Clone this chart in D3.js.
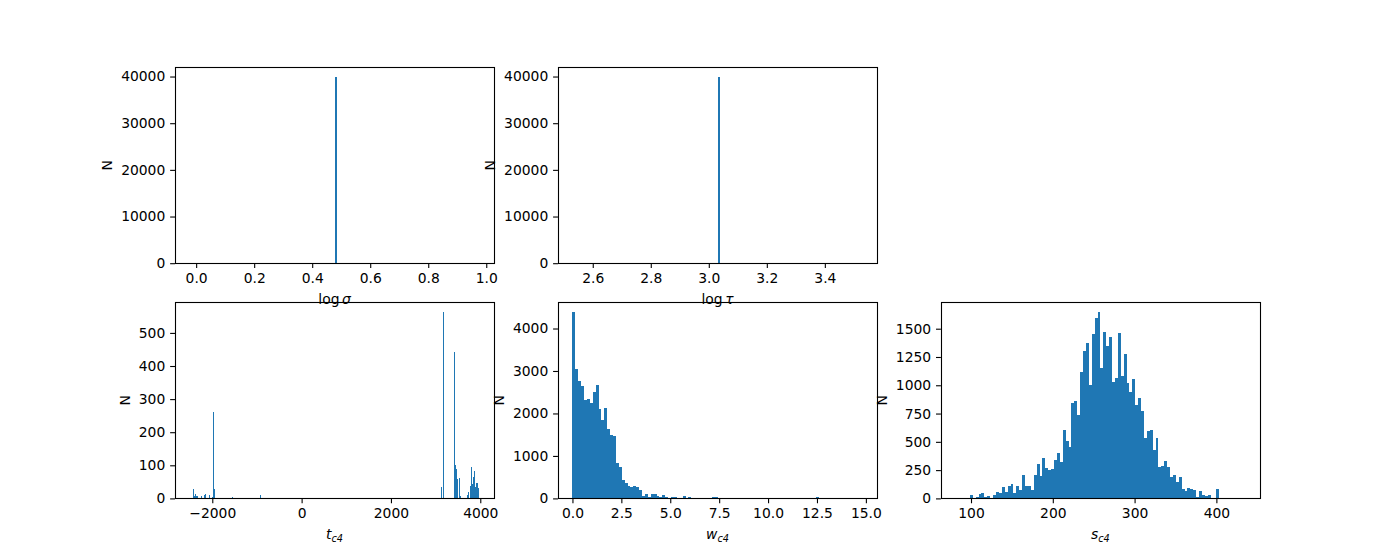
<!DOCTYPE html>
<html><head><meta charset="utf-8">
<script src="https://cdn.jsdelivr.net/npm/d3@7"></script>
<style>
body{margin:0;background:#fff}
text{font-family:"DejaVu Sans",sans-serif;fill:#000}
</style>
</head><body>
<svg id="fig" width="1400" height="560"></svg>
<script>
// ---------------- DATA ----------------
// log sigma: every sample in one bin
const sigmaHistRange = [-0.0229, 0.9771];
const sigmaBinStart = [0.4771];
const sigmaCounts = [40000];
const sigmaBinWidth = 0.01;
const sigmaXTicks = [0.0, 0.2, 0.4, 0.6, 0.8, 1.0];

// log tau
const tauHistRange = [2.53, 3.53];
const tauBinStart = [3.03];
const tauCounts = [40000];
const tauBinWidth = 0.01;
const tauXTicks = [2.6, 2.8, 3.0, 3.2, 3.4];

const topYTicks = [0, 10000, 20000, 30000, 40000];

// t_c4 (sparse bins: centre value, count)
const tc4HistRange = [-2510, 3985];
const tc4NBins = 300;
const tc4Centers = [-2423, -2401, -2380, -2358, -2336, -2250, -2185, -2163, -2142, -2055,
  -1990, -1968, -1947, -1557, -929,
  3141, 3184, 3423, 3444, 3466, 3487, 3531, 3552, 3704, 3725, 3790, 3812, 3834, 3855,
  3877, 3899, 3920, 3942, 3964];
const tc4Counts = [28, 7, 13, 7, 7, 7, 10, 13, 7, 10,
  5, 261, 28, 4, 10,
  33, 564, 441, 100, 88, 58, 61, 6, 9, 18, 37, 94, 43, 64,
  82, 33, 46, 46, 30];
const tc4XTicks = [-2000, 0, 2000, 4000];
const tc4YTicks = [0, 100, 200, 300, 400, 500];

// w_c4 (100 bins)
const wc4HistRange = [0, 14.83];
const wc4Counts = [4395, 3041, 2766, 2640, 2318, 2334, 2248, 2507, 2664, 2106,
  1847, 2122, 1627, 1485, 1470, 825, 731, 424, 354, 283,
  259, 283, 259, 192, 50, 98, 28, 98, 98, 50,
  28, 80, 30, 15, 30, 30, 3, 3, 55, 0,
  30, 0, 0, 0, 0, 0, 0, 0, 30, 30,
  0, 0, 0, 0, 0, 0, 0, 0, 0, 0,
  0, 0, 0, 0, 0, 0, 0, 0, 0, 0,
  0, 0, 0, 0, 0, 0, 0, 0, 0, 0,
  0, 0, 0, 0, 30, 0, 0, 0, 0, 0,
  0, 0, 0, 0, 0, 0, 0, 0, 0, 0];
const wc4XTicks = [0, 2.5, 5, 7.5, 10, 12.5, 15];
const wc4YTicks = [0, 1000, 2000, 3000, 4000];

// s_c4 (100 bins)
const sc4HistRange = [80.9, 435.6];
const sc4Counts = [0, 0, 0, 0, 2, 30, 5, 12, 38, 47,
  12, 21, 4, 30, 56, 47, 100, 56, 109, 127,
  47, 109, 74, 207, 109, 109, 74, 207, 304, 198,
  357, 269, 251, 260, 340, 402, 322, 605, 508, 455,
  844, 862, 738, 1119, 1305, 1376, 1004, 1456, 1597, 1650,
  1154, 1473, 1349, 1429, 1030, 1066, 1464, 1083, 1278, 1021,
  942, 1057, 827, 889, 774, 534, 596, 605, 428, 534,
  278, 286, 331, 278, 189, 207, 145, 189, 83, 65,
  92, 83, 74, 12, 65, 30, 21, 30, 3, 0,
  83, 0, 0, 0, 0, 0, 0, 0, 0, 0];
const sc4XTicks = [100, 200, 300, 400];
const sc4YTicks = [0, 250, 500, 750, 1000, 1250, 1500];

// ---------------- LAYOUT ----------------
const W = 1400, H = 560;
const PT = 100 / 72;               // px per point
const FS = 10 * PT;                // font size
const TICK = 3.5 * PT, PAD = 3.5 * PT, LPAD = 4 * PT;
const L = 0.125 * W, R = 0.9 * W, T = (1 - 0.88) * H, B = (1 - 0.11) * H;
const ws = 0.2, hs = 0.2;
const cw = (R - L) / (3 + 2 * ws);
const ch = (B - T) / (2 + hs);
function box(r, c) { return {x: L + c * cw * (1 + ws), y: T + r * ch * (1 + hs), w: cw, h: ch}; }

const svg = d3.select("#fig");
svg.append("rect").attr("width", W).attr("height", H).attr("fill", "#fff");

function histBins(range, counts) {
  const n = counts.length, bw = (range[1] - range[0]) / n;
  return counts.map((c, i) => ({x0: range[0] + i * bw, x1: range[0] + (i + 1) * bw, n: c}));
}
function sparseBins(starts, counts, bw) {
  return starts.map((s, i) => ({x0: s, x1: s + bw, n: counts[i]}));
}

function panel(b, range, bins, xTicks, xFmt, yTicks, xlabel, minW) {
  const pad = 0.05 * (range[1] - range[0]);
  const x = d3.scaleLinear().domain([range[0] - pad, range[1] + pad]).range([b.x, b.x + b.w]);
  const yMax = d3.max(bins, d => d.n) * 1.05;
  const y = d3.scaleLinear().domain([0, yMax]).range([b.y + b.h, b.y]);
  const g = svg.append("g");

  g.append("g").selectAll("rect").data(bins.filter(d => d.n > 0)).join("rect")
    .attr("x", d => x(d.x0))
    .attr("width", d => Math.max(minW, x(d.x1) - x(d.x0)))
    .attr("y", d => y(d.n))
    .attr("height", d => y(0) - y(d.n))
    .attr("fill", "#1f77b4")
    .attr("shape-rendering", "crispEdges");

  // spines
  g.append("rect").attr("x", Math.round(b.x) + 0.5).attr("y", Math.round(b.y) + 0.5)
    .attr("width", Math.round(b.x + b.w) - Math.round(b.x))
    .attr("height", Math.round(b.y + b.h) - Math.round(b.y))
    .attr("fill", "none").attr("stroke", "#000").attr("stroke-width", 1.1);

  const xa = g.append("g").attr("transform", `translate(0,${b.y + b.h})`)
    .call(d3.axisBottom(x).tickValues(xTicks).tickFormat(xFmt)
      .tickSizeInner(TICK).tickSizeOuter(0).tickPadding(PAD));
  const ya = g.append("g").attr("transform", `translate(${b.x},0)`)
    .call(d3.axisLeft(y).tickValues(yTicks).tickFormat(d3.format("d"))
      .tickSizeInner(TICK).tickSizeOuter(0).tickPadding(PAD));
  [xa, ya].forEach(a => {
    a.select(".domain").remove();
    a.attr("font-size", FS).attr("font-family", "DejaVu Sans");
    a.selectAll("line").attr("stroke", "#000").attr("stroke-width", 1.1);
    a.selectAll("text").attr("fill", "#000");
  });

  // y label (left of the tick labels)
  const yb = ya.node().getBBox();
  const lx = b.x + yb.x - LPAD - 0.236 * FS;
  g.append("text").attr("transform", `translate(${lx},${b.y + b.h / 2}) rotate(-90)`)
    .attr("text-anchor", "middle").attr("font-size", FS).text("N");

  // x label
  const t = g.append("text").attr("x", b.x + b.w / 2).attr("y", b.y + b.h + 40.5)
    .attr("text-anchor", "middle").attr("font-size", FS);
  xlabel(t);
}

const f1 = d3.format(".1f"), fd = d3.format("d");
function logLabel(sym) {
  return t => {
    t.append("tspan").text("log");
    t.append("tspan").attr("dx", 2.5).attr("font-style", "italic").text(sym);
  };
}
function subLabel(sym) {
  return t => {
    t.append("tspan").attr("font-style", "italic").text(sym);
    t.append("tspan").attr("font-style", "italic").attr("font-size", FS * 0.7).attr("dy", 3).text("c4");
  };
}

panel(box(0, 0), sigmaHistRange, sparseBins(sigmaBinStart, sigmaCounts, sigmaBinWidth),
  sigmaXTicks, f1, topYTicks, logLabel("σ"), 1);
panel(box(0, 1), tauHistRange, sparseBins(tauBinStart, tauCounts, tauBinWidth),
  tauXTicks, f1, topYTicks, logLabel("τ"), 1);

const tbw = (tc4HistRange[1] - tc4HistRange[0]) / tc4NBins;
panel(box(1, 0), tc4HistRange, sparseBins(tc4Centers.map(c => c - tbw / 2), tc4Counts, tbw),
  tc4XTicks, fd, tc4YTicks, subLabel("t"), 1);
panel(box(1, 1), wc4HistRange, histBins(wc4HistRange, wc4Counts),
  wc4XTicks, f1, wc4YTicks, subLabel("w"), 0);
panel(box(1, 2), sc4HistRange, histBins(sc4HistRange, sc4Counts),
  sc4XTicks, fd, sc4YTicks, subLabel("s"), 0);
</script>
</body></html>
